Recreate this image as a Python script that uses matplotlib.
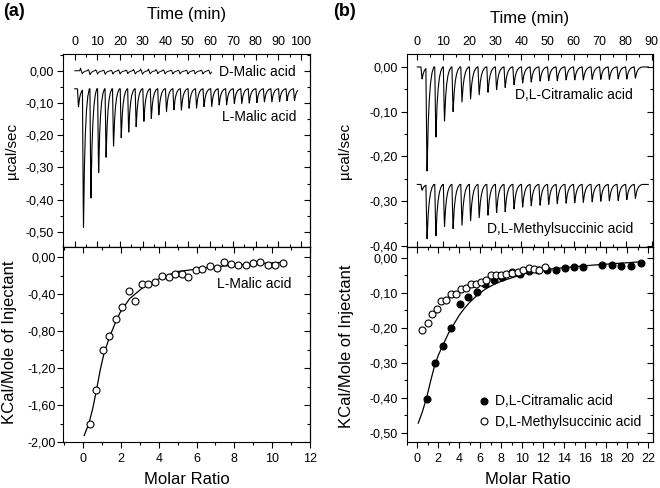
import numpy as np
import matplotlib.pyplot as plt
from matplotlib.ticker import MultipleLocator, FuncFormatter

plt.rcParams['font.family'] = ['Liberation Sans', 'DejaVu Sans']

# ---------------- data: panel (a) ----------------
# raw ITC trace, L-malic acid (injection time in min, peak minimum in ucal/sec)
l_malic_times = [1.2, 3.4, 6.7, 10.1, 13.4, 16.7, 20.1, 23.4, 26.7, 30.1,
                 33.4, 36.7, 40.1, 43.4, 46.7, 50.1, 53.4, 56.7, 60.1, 63.4,
                 66.7, 70.1, 73.4, 76.7, 80.1, 83.4, 86.7, 90.1, 93.4, 96.7]
l_malic_peaks = [-0.112, -0.490, -0.396, -0.319, -0.269, -0.236, -0.208, -0.192, -0.174, -0.158,
                 -0.148, -0.138, -0.127, -0.122, -0.122, -0.117, -0.116, -0.112, -0.111, -0.107,
                 -0.106, -0.102, -0.102, -0.101, -0.099, -0.097, -0.097, -0.096, -0.093, -0.093]
l_malic_base = -0.056
l_malic_end = 98.5

# raw ITC trace, D-malic acid
d_malic_times = [2.9, 6.3, 9.6, 13.0, 16.4, 19.6, 23.0, 26.3, 29.5,
                 32.9, 36.3, 39.5, 42.9, 46.1, 49.6, 52.8, 56.2, 59.4]
d_malic_peaks = [-0.009, -0.012, -0.010, -0.011, -0.010, -0.010, -0.009, -0.010, -0.011,
                 -0.010, -0.009, -0.010, -0.010, -0.010, -0.010, -0.010, -0.010, -0.010]
d_malic_blips = [0.008, 0.004, 0.003, 0.002, 0.002, 0.003, 0.002, 0.004, 0.006,
                 0.005, 0.004, 0.003, 0.002, 0.002, 0.002, 0.002, 0.002, 0.002]
d_malic_base = 0.0
d_malic_end = 60.5

# integrated heats, L-malic acid
a_ratio = [0.35, 0.70, 1.04, 1.37, 1.72, 2.07, 2.40, 2.75, 3.12, 3.45,
           3.80, 4.15, 4.52, 4.87, 5.22, 5.57, 5.96, 6.31, 6.69, 7.06,
           7.45, 7.83, 8.20, 8.59, 8.97, 9.37, 9.77, 10.16, 10.55]
a_heat = [-1.806, -1.438, -1.006, -0.851, -0.667, -0.534, -0.361, -0.469, -0.292, -0.285,
          -0.270, -0.202, -0.216, -0.184, -0.177, -0.220, -0.141, -0.126, -0.091, -0.112,
          -0.054, -0.072, -0.087, -0.080, -0.065, -0.054, -0.087, -0.087, -0.058]
# fitted curve, L-malic acid
a_fit_x = [0.05, 0.3, 0.5, 0.7, 0.9, 1.1, 1.4, 1.7, 1.95, 2.45, 3.15, 4.0,
           5.0, 5.6, 6.5, 7.5, 8.5, 9.5, 10.7]
a_fit_y = [-1.93, -1.80, -1.64, -1.44, -1.22, -1.04, -0.86, -0.71, -0.60, -0.45, -0.33, -0.235,
           -0.155, -0.14, -0.115, -0.095, -0.08, -0.066, -0.055]

# ---------------- data: panel (b) ----------------
b_times = [1.4, 3.3, 6.7, 10.0, 13.3, 16.7, 20.0, 23.3, 26.7, 30.0, 33.3, 36.7, 40.0,
           43.3, 46.7, 50.0, 53.3, 56.7, 60.0, 63.3, 66.7, 70.0, 73.3, 76.7, 80.0, 83.3]
citra_peaks = [-0.027, -0.234, -0.157, -0.121, -0.100, -0.079, -0.072, -0.063, -0.057,
               -0.051, -0.046, -0.040, -0.036, -0.034, -0.032, -0.031, -0.031, -0.029,
               -0.029, -0.029, -0.028, -0.028, -0.028, -0.027, -0.027, -0.025]
citra_base = 0.0
methyl_peaks = [-0.276, -0.385, -0.378, -0.357, -0.362, -0.355, -0.345, -0.338, -0.332,
                -0.326, -0.324, -0.318, -0.314, -0.311, -0.310, -0.308, -0.306, -0.305,
                -0.304, -0.303, -0.302, -0.301, -0.300, -0.299, -0.297, -0.294]
methyl_base = -0.263
b_end = 88.7

citra_ratio = [0.89, 1.66, 2.45, 3.24, 4.07, 4.86, 5.65, 6.48, 7.30, 8.10, 8.99, 9.81,
               10.62, 11.50, 12.35, 13.20, 14.05, 14.90, 15.80, 17.60, 18.50, 19.45, 20.35, 21.30]
citra_heat = [-0.405, -0.301, -0.253, -0.200, -0.134, -0.113, -0.099, -0.075, -0.063, -0.055,
              -0.041, -0.047, -0.039, -0.037, -0.037, -0.036, -0.029, -0.028, -0.027, -0.022,
              -0.022, -0.025, -0.024, -0.016]
methyl_ratio = [0.48, 0.99, 1.40, 1.85, 2.29, 2.73, 3.21, 3.69, 4.16, 4.64, 5.11, 5.59, 6.07,
                6.54, 7.02, 7.50, 8.00, 8.50, 9.00, 9.56, 10.07, 10.60, 11.10, 11.60, 12.16]
methyl_heat = [-0.207, -0.186, -0.160, -0.146, -0.125, -0.120, -0.103, -0.105, -0.091, -0.086,
               -0.077, -0.077, -0.069, -0.065, -0.051, -0.051, -0.051, -0.047, -0.045, -0.042,
               -0.037, -0.030, -0.034, -0.037, -0.026]
citra_fit_x = [0.1, 0.5, 0.9, 1.3, 1.65, 2.0, 2.45, 3.0, 3.5, 4.0, 4.5, 5.0, 5.7, 6.5, 7.3,
               8.0, 9.0, 10.0, 11.0, 12.3, 14.0, 15.8, 17.5, 19.5, 21.4]
citra_fit_y = [-0.473, -0.44, -0.40, -0.35, -0.31, -0.28, -0.25, -0.215, -0.19, -0.165, -0.145,
               -0.128, -0.108, -0.090, -0.077, -0.068, -0.058, -0.048, -0.041, -0.034, -0.029,
               -0.024, -0.020, -0.016, -0.012]

# peak shape used to draw each injection on the thermogram
shape_t = [0, 0.2, 0.45, 0.8, 1.2, 1.7, 2.3, 3.0]
shape_h = [0, 0.55, 1.0, 0.6, 0.35, 0.17, 0.06, 0]


def thermogram(t, base, times, peaks, blips=None):
    y = np.full_like(t, base)
    for i, (t0, p) in enumerate(zip(times, peaks)):
        y += (p - base) * np.interp(t - t0, shape_t, shape_h, left=0, right=0)
        if blips is not None:
            y += blips[i] * np.interp(t - t0, [-0.7, -0.4, -0.1], [0, 1, 0], left=0, right=0)
    return y


def comma(v, pos):
    s = f"{v:.2f}".replace('.', ',')
    return "0,00" if s == "-0,00" else s


def style(ax, xmaj, xmin, ymaj, ymin, top_panel, ypad=2.5):
    ax.xaxis.set_major_locator(MultipleLocator(xmaj))
    ax.xaxis.set_minor_locator(MultipleLocator(xmin))
    ax.yaxis.set_major_locator(MultipleLocator(ymaj))
    ax.yaxis.set_minor_locator(MultipleLocator(ymin))
    ax.yaxis.set_major_formatter(FuncFormatter(comma))
    ax.tick_params(axis='y', which='both', direction='out', left=True, right=False,
                   labelsize=9, pad=ypad)
    ax.tick_params(which='major', length=4, width=0.8)
    ax.tick_params(which='minor', length=2.5, width=0.8)
    sy = ax.secondary_yaxis('right')
    sy.yaxis.set_major_locator(MultipleLocator(ymaj))
    sy.yaxis.set_minor_locator(MultipleLocator(ymin))
    sy.tick_params(which='both', direction='in', labelright=False)
    sy.tick_params(which='major', length=4, width=0.8)
    sy.tick_params(which='minor', length=2.5, width=0.8)
    if top_panel:
        ax.xaxis.tick_top()
        ax.tick_params(axis='x', which='both', direction='in', top=True, bottom=False,
                       labeltop=True, labelbottom=False, labelsize=9, pad=4)
        sx = ax.secondary_xaxis('bottom')
    else:
        ax.tick_params(axis='x', which='both', direction='out', bottom=True, top=False,
                       labelsize=9, pad=4)
        sx = ax.secondary_xaxis('top')
    sx.xaxis.set_major_locator(MultipleLocator(xmaj))
    sx.xaxis.set_minor_locator(MultipleLocator(xmin))
    sx.tick_params(which='both', direction='in', labelbottom=False, labeltop=False)
    sx.tick_params(which='major', length=4, width=0.8)
    sx.tick_params(which='minor', length=2.5, width=0.8)
    for s in ax.spines.values():
        s.set_linewidth(0.8)


W, H = 660, 488
fig = plt.figure(figsize=(6.6, 4.88), dpi=100)


def box(l, t, r, b):
    return [l / W, 1 - b / H, (r - l) / W, (b - t) / H]


ax_a1 = fig.add_axes(box(63, 54, 310, 247))
ax_a2 = fig.add_axes(box(63, 247, 310, 442))
ax_b1 = fig.add_axes(box(406.7, 54, 653, 247))
ax_b2 = fig.add_axes(box(406.7, 247, 653, 442))

# ---- (a) raw data ----
t_l = np.linspace(0, l_malic_end, 5000)
t_d = np.linspace(0, d_malic_end, 3000)
ax_a1.plot(t_l, thermogram(t_l, l_malic_base, l_malic_times, l_malic_peaks), color='black', lw=0.8)
ax_a1.plot(t_d, thermogram(t_d, d_malic_base, d_malic_times, d_malic_peaks, d_malic_blips),
           color='black', lw=0.7)
ax_a1.set_xlim(-5.2, 104)
ax_a1.set_ylim(-0.547, 0.052)
ax_a1.text(97.8, -0.005, 'D-Malic acid', ha='right', va='center', fontsize=10)
ax_a1.text(97.8, -0.143, 'L-Malic acid', ha='right', va='center', fontsize=10)
style(ax_a1, 10, 5, 0.10, 0.05, True)

# ---- (a) integrated heats ----
ax_a2.plot(a_fit_x, a_fit_y, color='black', lw=0.9)
ax_a2.plot(a_ratio, a_heat, 'o', mfc='white', mec='black', ms=5, mew=0.8)
ax_a2.set_xlim(-1.07, 12.001)
ax_a2.set_ylim(-2.0, 0.11)
ax_a2.text(11.0, -0.29, 'L-Malic acid', ha='right', va='center', fontsize=10)
style(ax_a2, 2, 1, 0.40, 0.20, False, ypad=1)

# ---- (b) raw data ----
t_b = np.linspace(0, b_end, 5000)
ax_b1.plot(t_b, thermogram(t_b, citra_base, b_times, citra_peaks), color='black', lw=0.8)
ax_b1.plot(t_b, thermogram(t_b, methyl_base, b_times, methyl_peaks), color='black', lw=0.8)
ax_b1.set_xlim(-4.07, 90.5)
ax_b1.set_ylim(-0.403, 0.029)
ax_b1.text(82.9, -0.063, 'D,L-Citramalic acid', ha='right', va='center', fontsize=10)
ax_b1.text(82.9, -0.363, 'D,L-Methylsuccinic acid', ha='right', va='center', fontsize=10)
style(ax_b1, 10, 5, 0.10, 0.05, True)

# ---- (b) integrated heats ----
ax_b2.plot(citra_fit_x, citra_fit_y, color='black', lw=0.9)
ax_b2.plot(citra_ratio, citra_heat, 'o', mfc='black', mec='black', ms=5, mew=0.8,
           label='D,L-Citramalic acid')
ax_b2.plot(methyl_ratio, methyl_heat, 'o', mfc='white', mec='black', ms=5, mew=0.8,
           label='D,L-Methylsuccinic acid')
ax_b2.set_xlim(-1.0, 22.45)
ax_b2.set_ylim(-0.527, 0.030)
ax_b2.legend(loc='lower left', bbox_to_anchor=(0.29, 0.065), frameon=False, fontsize=10,
             handlelength=0.8, handletextpad=0.45, borderpad=0, borderaxespad=0,
             labelspacing=0.5)
style(ax_b2, 2, 1, 0.10, 0.05, False)

# ---- labels ----
fig.text(3 / W, 1 - 12 / H, '(a)', fontsize=13, fontweight='bold', ha='left', va='center')
fig.text(333 / W, 1 - 12 / H, '(b)', fontsize=13, fontweight='bold', ha='left', va='center')
fig.text(186.5 / W, 1 - 15 / H, 'Time (min)', fontsize=12, ha='center', va='center')
fig.text(530 / W, 1 - 18 / H, 'Time (min)', fontsize=12, ha='center', va='center')
fig.text(187 / W, 1 - 480 / H, 'Molar Ratio', fontsize=12, ha='center', va='center')
fig.text(528 / W, 1 - 480 / H, 'Molar Ratio', fontsize=12, ha='center', va='center')
fig.text(12 / W, 1 - 151 / H, 'µcal/sec', fontsize=11, rotation=90, ha='center', va='center')
fig.text(345 / W, 1 - 151 / H, 'µcal/sec', fontsize=11, rotation=90, ha='center', va='center')
fig.text(10 / W, 1 - 342 / H, 'KCal/Mole of Injectant', fontsize=12, rotation=90,
         ha='center', va='center')
fig.text(347 / W, 1 - 346 / H, 'KCal/Mole of Injectant', fontsize=12, rotation=90,
         ha='center', va='center')

fig.savefig('out.png', dpi=100)
